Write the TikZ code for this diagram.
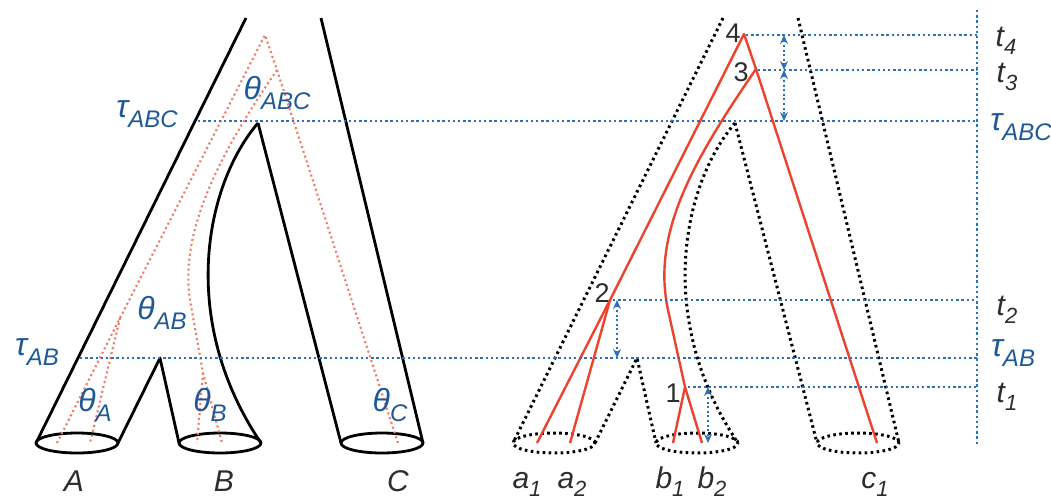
\documentclass[tikz,border=0pt]{standalone}
\usepackage{fontspec}
\setmainfont{Liberation Sans}
\usetikzlibrary{arrows.meta}
\definecolor{tblue}{RGB}{30,88,150}
\definecolor{lblue}{RGB}{45,112,185}
\definecolor{gred}{RGB}{236,66,46}
\definecolor{sred}{RGB}{242,120,100}
\definecolor{dgray}{RGB}{45,45,45}
\newcommand\lsub[1]{\raisebox{-8pt}{\fontsize{22}{23}\selectfont #1}}
\newcommand\gsub[1]{\raisebox{-10pt}{\fontsize{24}{25}\selectfont #1}}
\begin{document}
\begin{tikzpicture}[x=1pt,y=-1pt,
  solidk/.style={line width=2.8pt, black, line join=round},
  kdot/.style={line width=3pt, black, dash pattern=on 2.6pt off 3.4pt},
  rdot/.style={line width=2.1pt, sred, dash pattern=on 2pt off 3pt},
  gene/.style={line width=2.4pt, gred, line join=round},
  bdot/.style={line width=2.6pt, lblue, dash pattern=on 2.4pt off 2.8pt},
  barrow/.style={line width=2pt, lblue, dash pattern=on 2pt off 2.6pt,
    {Stealth[length=9pt,width=8pt,inset=3pt]}-{Stealth[length=9pt,width=8pt,inset=3pt]}},
  lab/.style={inner sep=0pt, text=dgray, font=\fontsize{30}{31}\selectfont\itshape},
  glab/.style={inner sep=0pt, text=tblue, font=\fontsize{32}{33}\selectfont\itshape},
  num/.style={inner sep=0pt, text=dgray, font=\fontsize{27}{28}\selectfont},
]
\useasboundingbox (0,0) rectangle (1051,501);

% ---------- left species tree ----------
\coordinate (LTL) at (246,18);
\coordinate (LTR) at (321,18);
\coordinate (LABC) at (258,123);
\coordinate (LAB) at (160,358);
\coordinate (Al) at (36,443);  \coordinate (Ar) at (118,443);
\coordinate (Bl) at (179,443); \coordinate (Br) at (261,443);
\coordinate (Cl) at (341,443); \coordinate (Cr) at (423,443);

\draw[solidk] (LTL) -- (Al);
\draw[solidk] (LTR) -- (Cr);
\draw[solidk] (LABC) -- (Cl);
\draw[solidk] (LABC) .. controls (205,185) and (178,320) .. (Br);
\draw[solidk] (Ar) -- (LAB) -- (Bl);
\draw[solidk] (77,443) ellipse [x radius=41pt, y radius=10pt];
\draw[solidk] (220,443) ellipse [x radius=41pt, y radius=10pt];
\draw[solidk] (382,443) ellipse [x radius=41pt, y radius=10pt];

% red dotted gene tree (left)
\coordinate (n4L) at (265,35);
\coordinate (n3L) at (277,70);
\coordinate (n2L) at (120,318);
\coordinate (n1L) at (203,373);
\coordinate (la1) at (57,443); \coordinate (la2) at (90,443);
\coordinate (lb1) at (197,443); \coordinate (lb2) at (222,443);
\coordinate (lc1) at (398,443);
\draw[rdot] (la1) -- (n2L) -- (n4L) -- (n3L) -- (lc1);
\draw[rdot] (n2L) -- (la2);
\draw[rdot] (n3L) .. controls (215,160) and (180,235) .. (190,300) -- (n1L) -- (lb2);
\draw[rdot] (n1L) -- (lb1);

% ---------- right species tree ----------
\coordinate (RTL) at (723,18);
\coordinate (RTR) at (798,18);
\coordinate (RABC) at (735,123);
\coordinate (RAB) at (637,358);
\coordinate (al) at (513,443); \coordinate (ar) at (595,443);
\coordinate (bl) at (656,443); \coordinate (br) at (738,443);
\coordinate (cl) at (817,443); \coordinate (cr) at (899,443);
\draw[kdot] (RTL) -- (al);
\draw[kdot] (RTR) -- (cr);
\draw[kdot] (RABC) -- (cl);
\draw[kdot] (RABC) .. controls (682,185) and (655,320) .. (br);
\draw[kdot] (ar) -- (RAB) -- (bl);
\draw[kdot] (554,443) ellipse [x radius=41pt, y radius=10pt];
\draw[kdot] (697,443) ellipse [x radius=41pt, y radius=10pt];
\draw[kdot] (858,443) ellipse [x radius=41pt, y radius=10pt];

% red gene tree (right)
\coordinate (n4R) at (744,34);
\coordinate (n3R) at (756,69);
\coordinate (n2R) at (610,300);
\coordinate (n1R) at (685,387);
\coordinate (ra1) at (537,443); \coordinate (ra2) at (570,443);
\coordinate (rb1) at (673,443); \coordinate (rb2) at (702,443);
\coordinate (rc1) at (877,443);
\draw[gene] (ra1) -- (n2R) -- (n4R) -- (n3R) -- (rc1);
\draw[gene] (n2R) -- (ra2);
\draw[gene] (n3R) .. controls (690,165) and (652,235) .. (668,310) -- (n1R) -- (rb2);
\draw[gene] (n1R) -- (rb1);

% ---------- blue time lines ----------
\coordinate (vtop) at (977,10);
\coordinate (vbot) at (977,446);
\coordinate (t4e) at (977,35);
\coordinate (t3e) at (977,70);
\coordinate (tABCs) at (198,121); \coordinate (tABCe) at (977,121);
\coordinate (t2e) at (977,300);
\coordinate (tABs) at (80,358); \coordinate (tABe) at (977,358);
\coordinate (t1e) at (977,387);
\draw[bdot] (vtop) -- (vbot);
\draw[bdot] (746,35) -- (t4e);
\draw[bdot] (758,70) -- (t3e);
\draw[bdot] (tABCs) -- (tABCe);
\draw[bdot] (613,300) -- (t2e);
\draw[bdot] (tABs) -- (tABe);
\draw[bdot] (688,387) -- (t1e);

\coordinate (ar1) at (784,35); \coordinate (ar2) at (784,70); \coordinate (ar3) at (784,121);
\coordinate (ar4) at (617,300); \coordinate (ar5) at (617,358);
\coordinate (ar6) at (708,387); \coordinate (ar7) at (708,443);
\draw[barrow] (ar1) -- (ar2);
\draw[barrow] (ar2) -- (ar3);
\draw[barrow] (ar4) -- (ar5);
\draw[barrow] (ar6) -- (ar7);

% ---------- labels ----------
\node[glab] (tauABCl) at (147,114) {τ\gsub{ABC}};
\node[glab] (thABC) at (277,93) {θ\gsub{ABC}};
\node[glab] (thAB) at (162,313) {θ\gsub{AB}};
\node[glab] (tauABl) at (37,352) {τ\gsub{AB}};
\node[glab] (thA) at (95,405) {θ\gsub{A}};
\node[glab] (thB) at (210,405) {θ\gsub{B}};
\node[glab] (thC) at (390,405) {θ\gsub{C}};
\node[lab] (labA) at (74,481) {A};
\node[lab] (labB) at (224,481) {B};
\node[lab] (labC) at (398,481) {C};

\node[lab] (la1t) at (527,484) {a\lsub{1}};
\node[lab] (la2t) at (572,484) {a\lsub{2}};
\node[lab] (lb1t) at (670,482) {b\lsub{1}};
\node[lab] (lb2t) at (712,482) {b\lsub{2}};
\node[lab] (lc1t) at (875,484) {c\lsub{1}};

\node[num] (num4) at (733,33) {4};
\node[num] (num3) at (741,72) {3};
\node[num] (num2) at (602,293) {2};
\node[num] (num1) at (673,393) {1};

\node[lab] (t4) at (1006,41) {t\lsub{4}};
\node[lab] (t3) at (1007,77) {t\lsub{3}};
\node[glab] (tauABCr) at (1021,127) {τ\gsub{ABC}};
\node[lab] (t2) at (1007,310) {t\lsub{2}};
\node[glab] (tauABr) at (1013,353) {τ\gsub{AB}};
\node[lab] (t1) at (1007,397) {t\lsub{1}};
\end{tikzpicture}
\end{document}
